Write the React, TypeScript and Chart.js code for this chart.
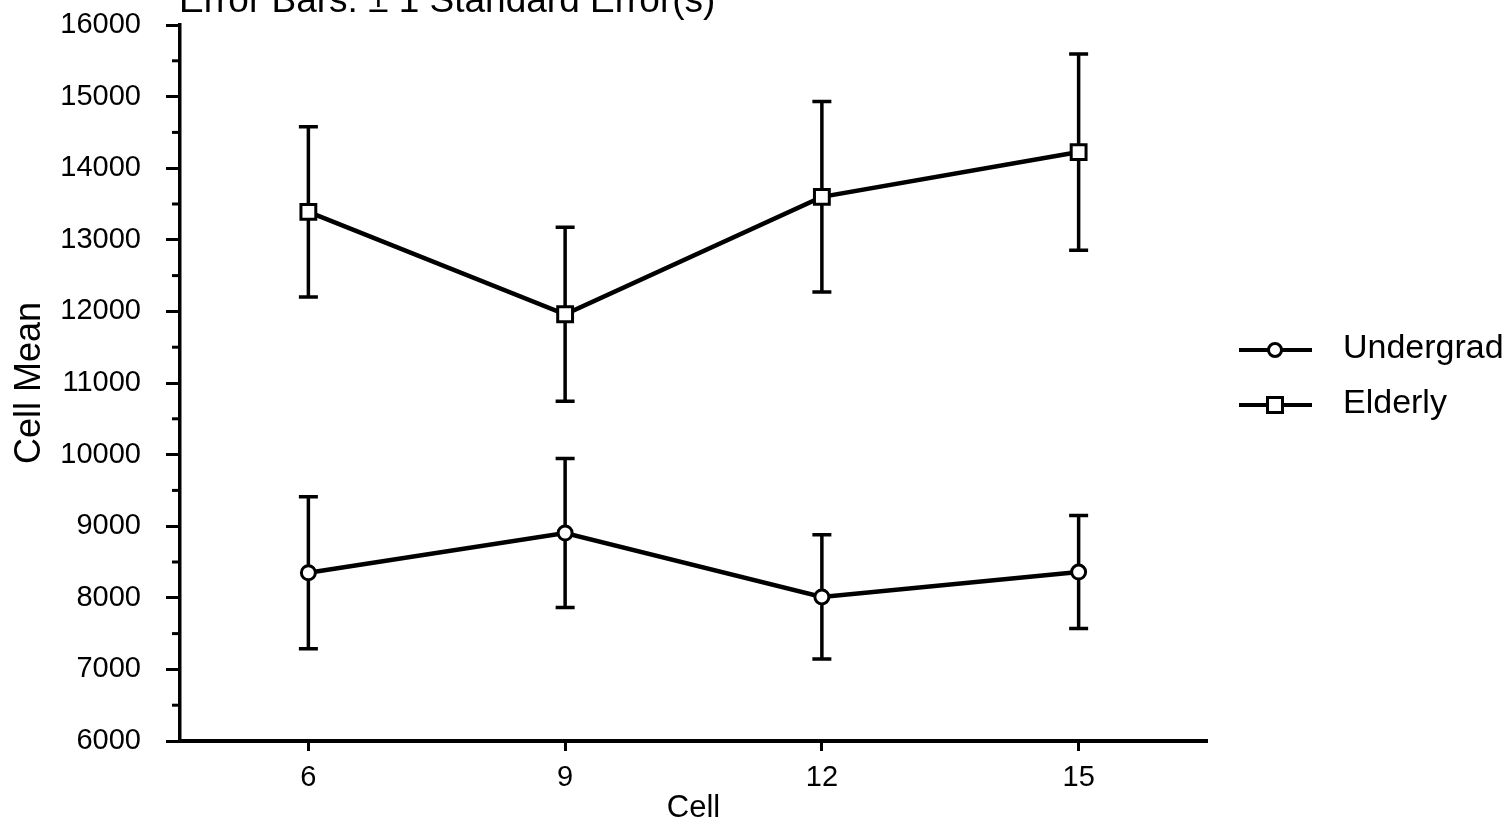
import React, { useEffect, useRef } from "react";
import { Chart, registerables } from "chart.js";

Chart.register(...registerables);

// ---- data ----
const cells = [6, 9, 12, 15];
const undergradMean = [8350, 8905, 8012, 8360];
const undergradSE = [1060, 1040, 868, 790];
const elderlyMean = [13390, 11960, 13600, 14225];
const elderlySE = [1190, 1215, 1330, 1370];
const seriesLabels = ["Undergrad", "Elderly"];
const titleText = "Error Bars: \u00B1 1 Standard Error(s)";
const xTitle = "Cell";
const yTitle = "Cell Mean";
const yMin = 6000;
const yMax = 16000;
const yMajorStep = 1000;
const yMinorStep = 500;
const xMin = 4.5;
const xMax = 16.5;

const FONT = "'Liberation Sans', Arial, Helvetica, sans-serif";

const errorBarPlugin = {
  id: "errorBars",
  beforeDatasetsDraw(chart: any) {
    const ctx = chart.ctx;
    const xs = chart.scales.x;
    const ys = chart.scales.y;
    const sets = [
      { m: undergradMean, e: undergradSE },
      { m: elderlyMean, e: elderlySE },
    ];
    ctx.save();
    ctx.strokeStyle = "#000";
    ctx.lineWidth = 3.5;
    ctx.lineCap = "butt";
    sets.forEach((s) => {
      s.m.forEach((m, i) => {
        const x = xs.getPixelForValue(cells[i]);
        const yt = ys.getPixelForValue(m + s.e[i]);
        const yb = ys.getPixelForValue(m - s.e[i]);
        ctx.beginPath();
        ctx.moveTo(x, yt);
        ctx.lineTo(x, yb);
        ctx.moveTo(x - 9.5, yt);
        ctx.lineTo(x + 9.5, yt);
        ctx.moveTo(x - 9.5, yb);
        ctx.lineTo(x + 9.5, yb);
        ctx.stroke();
      });
    });
    ctx.restore();
  },
};

const decorPlugin = {
  id: "decor",
  afterDraw(chart: any) {
    const ctx = chart.ctx;
    const ys = chart.scales.y;
    const axisX = chart.chartArea.left;
    ctx.save();
    // minor y ticks
    ctx.strokeStyle = "#000";
    ctx.lineWidth = 3;
    for (let v = yMin; v <= yMax; v += yMinorStep) {
      if (v % yMajorStep === 0) continue;
      const y = ys.getPixelForValue(v);
      ctx.beginPath();
      ctx.moveTo(axisX - 8, y);
      ctx.lineTo(axisX, y);
      ctx.stroke();
    }
    // title (cut off at top)
    ctx.fillStyle = "#000";
    ctx.font = `37px ${FONT}`;
    ctx.textAlign = "left";
    ctx.textBaseline = "alphabetic";
    ctx.fillText(titleText, 179, 12);
    // legend
    const rows = [
      { label: seriesLabels[0], y: 350, style: "circle" },
      { label: seriesLabels[1], y: 405, style: "rect" },
    ];
    rows.forEach((r) => {
      ctx.strokeStyle = "#000";
      ctx.lineWidth = 4;
      ctx.beginPath();
      ctx.moveTo(1239, r.y);
      ctx.lineTo(1312, r.y);
      ctx.stroke();
      ctx.lineWidth = 3;
      ctx.fillStyle = "#fff";
      ctx.beginPath();
      if (r.style === "circle") {
        ctx.arc(1275, r.y, 6.5, 0, Math.PI * 2);
      } else {
        ctx.rect(1275 - 7.5, r.y - 7.5, 15, 15);
      }
      ctx.fill();
      ctx.stroke();
      ctx.fillStyle = "#000";
      ctx.font = `34px ${FONT}`;
      ctx.textAlign = "left";
      ctx.textBaseline = "middle";
      ctx.fillText(r.label, 1343, r.y - 1);
    });
    ctx.restore();
  },
};

export default function App() {
  const ref = useRef<HTMLCanvasElement | null>(null);

  useEffect(() => {
    document.body.style.margin = "0";
    const canvas = ref.current;
    if (!canvas) return;
    const chart = new Chart(canvas, {
      type: "line",
      data: {
        datasets: [
          {
            label: seriesLabels[0],
            data: cells.map((c, i) => ({ x: c, y: undergradMean[i] })),
            borderColor: "#000",
            borderWidth: 4.5,
            pointStyle: "circle",
            pointRadius: 7,
            pointBorderWidth: 3,
            pointBackgroundColor: "#fff",
            pointBorderColor: "#000",
            tension: 0,
            fill: false,
          },
          {
            label: seriesLabels[1],
            data: cells.map((c, i) => ({ x: c, y: elderlyMean[i] })),
            borderColor: "#000",
            borderWidth: 4.5,
            pointStyle: "rect",
            pointRadius: 10.5,
            pointBorderWidth: 3,
            pointBackgroundColor: "#fff",
            pointBorderColor: "#000",
            tension: 0,
            fill: false,
          },
        ],
      },
      options: {
        responsive: false,
        animation: false,
        events: [],
        layout: { padding: { left: 0, right: 303, top: 25, bottom: 0 } },
        plugins: {
          legend: { display: false },
          title: { display: false },
          tooltip: { enabled: false },
        },
        scales: {
          x: {
            type: "linear",
            min: xMin,
            max: xMax,
            afterBuildTicks: (s: any) => {
              s.ticks = cells.map((v) => ({ value: v }));
            },
            afterFit: (s: any) => {
              s.height = 87;
              s.paddingLeft = 0;
              s.paddingRight = 0;
            },
            ticks: {
              color: "#000",
              font: { family: FONT, size: 29 },
              padding: 10,
              autoSkip: false,
              maxRotation: 0,
              callback: (v: any) => String(v),
            },
            grid: {
              drawOnChartArea: false,
              drawTicks: true,
              tickLength: 10,
              tickWidth: 3,
              tickColor: "#000",
            },
            border: { display: true, color: "#000", width: 4 },
            title: {
              display: true,
              text: xTitle,
              color: "#000",
              font: { family: FONT, size: 31 },
              padding: { top: 0, bottom: 1 },
            },
          },
          y: {
            type: "linear",
            min: yMin,
            max: yMax,
            afterFit: (s: any) => {
              s.width = 180;
              s.paddingTop = 0;
              s.paddingBottom = 0;
            },
            ticks: {
              stepSize: yMajorStep,
              color: "#000",
              font: { family: FONT, size: 29 },
              padding: 25,
              autoSkip: false,
              callback: (v: any) => String(v),
            },
            grid: {
              drawOnChartArea: false,
              drawTicks: true,
              tickLength: 14,
              tickWidth: 3,
              tickColor: "#000",
            },
            border: { display: true, color: "#000", width: 3.5 },
            title: {
              display: true,
              text: yTitle,
              color: "#000",
              font: { family: FONT, size: 36 },
              padding: { top: 8, bottom: 0 },
            },
          },
        },
      },
      plugins: [errorBarPlugin, decorPlugin],
    } as any);
    return () => chart.destroy();
  }, []);

  return (
    <div style={{ width: 1510, height: 828, position: "relative", background: "#fff" }}>
      <canvas ref={ref} width={1510} height={828} style={{ display: "block" }} />
    </div>
  );
}
